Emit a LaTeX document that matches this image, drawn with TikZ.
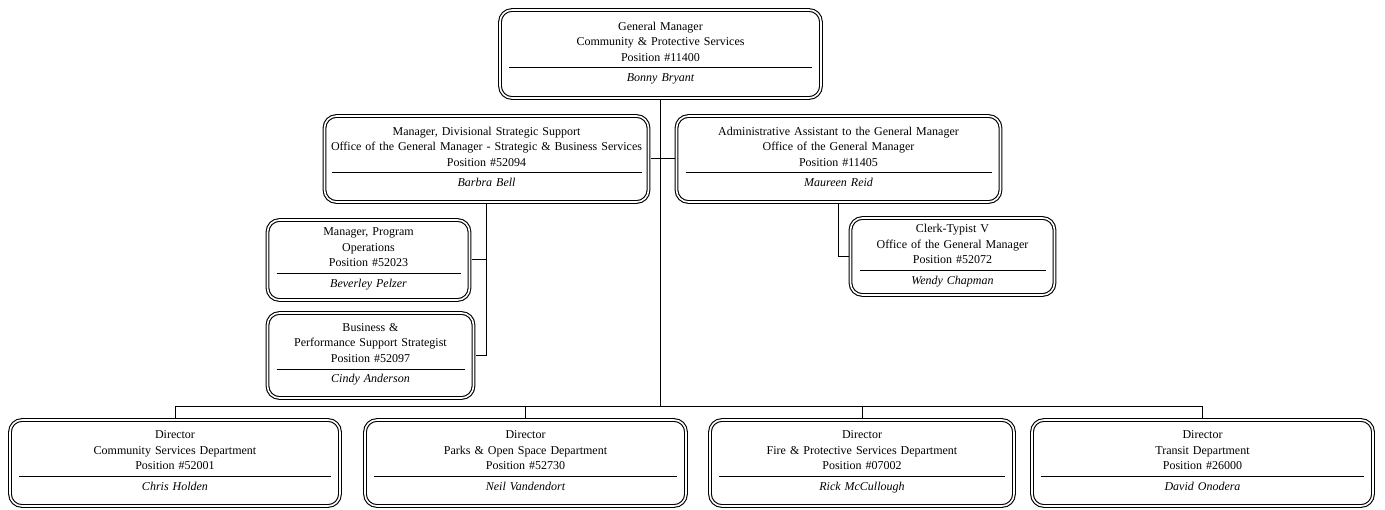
\documentclass[tikz,border=0pt]{standalone}
\usepackage{fontspec}
\setmainfont{Liberation Serif}
\usetikzlibrary{positioning,calc}
\newcommand{\orgtext}[4]{#1\\#2\\#3\\[-8.5pt]\rule{\linewidth}{0.9pt}\\[-2pt]\textit{#4\strut}}

\begin{document}
\begin{tikzpicture}[
x=1pt,y=1pt,
orgbox/.style={
  draw,
  double,
  double distance=1.6pt,
  line width=1.1pt,
  rounded corners=12pt,
  align=center,
  outer sep=2pt,
  inner xsep=9pt,
  inner ysep=2pt,
  font=\fontsize{12}{15.5}\selectfont
},
link/.style={line width=1pt}
]
\useasboundingbox (0,0) rectangle (1385,-510);

\node[orgbox,text width=303pt,minimum height=88pt] (gm) at (660.5,-54)
  {\orgtext{General Manager}{Community \& Protective Services}{Position \#11400}{Bonny Bryant}};
\node[orgbox,text width=310pt,inner xsep=7pt,minimum height=86pt,below left=14pt and 10pt of gm.south] (barbra)
  {\orgtext{Manager, Divisional Strategic Support}{\makebox[\linewidth][c]{Office of the General Manager - Strategic \& Business Services}}{Position \#52094}{Barbra Bell}};
\node[orgbox,text width=306pt,minimum height=86pt,below right=14pt and 14pt of gm.south] (maureen)
  {\orgtext{Administrative Assistant to the General Manager}{Office of the General Manager}{Position \#11405}{Maureen Reid}};
\node[orgbox,text width=184pt,minimum height=80pt,below left=14pt and 15pt of barbra.south] (beverley)
  {\orgtext{Manager, Program}{Operations}{Position \#52023}{Beverley Pelzer}};
\node[orgbox,text width=188pt,minimum height=85pt,below right=9pt and 0pt of beverley.south west] (cindy)
  {\orgtext{Business \&}{Performance Support Strategist}{Position \#52097}{Cindy Anderson}};
\node[orgbox,text width=186pt,minimum height=77pt,below right=12pt and 10pt of maureen.south] (wendy)
  {\orgtext{Clerk-Typist V}{Office of the General Manager}{Position \#52072}{Wendy Chapman}};

% directors
\node[orgbox,text width=312pt,minimum height=86pt,anchor=north west] (dir1) at (8,-418)
  {\orgtext{Director}{Community Services Department}{Position \#52001}{Chris Holden}};
\node[orgbox,text width=303pt,minimum height=86pt,right=21pt of dir1] (dir2)
  {\orgtext{Director}{Parks \& Open Space Department}{Position \#52730}{Neil Vandendort}};
\node[orgbox,text width=286pt,minimum height=86pt,right=20pt of dir2] (dir3)
  {\orgtext{Director}{Fire \& Protective Services Department}{Position \#07002}{Rick McCullough}};
\node[orgbox,text width=323pt,minimum height=86pt,right=14pt of dir3] (dir4)
  {\orgtext{Director}{Transit Department}{Position \#26000}{David Onodera}};

\coordinate (bus) at ($(dir1.north)+(0,11)$);

\draw[link] (gm.south) -- (gm.south |- bus);
\draw[link] (dir1.north) |- (bus) -| (dir4.north);
\draw[link] (dir2.north) -- (dir2.north |- bus);
\draw[link] (dir3.north) -- (dir3.north |- bus);
\draw[link] (barbra.east) -- (maureen.west);
\draw[link] (barbra.south) |- (cindy.east);
\draw[link] (barbra.south |- beverley.east) -- (beverley.east);
\draw[link] (maureen.south) |- (wendy.west);
\end{tikzpicture}
\end{document}
